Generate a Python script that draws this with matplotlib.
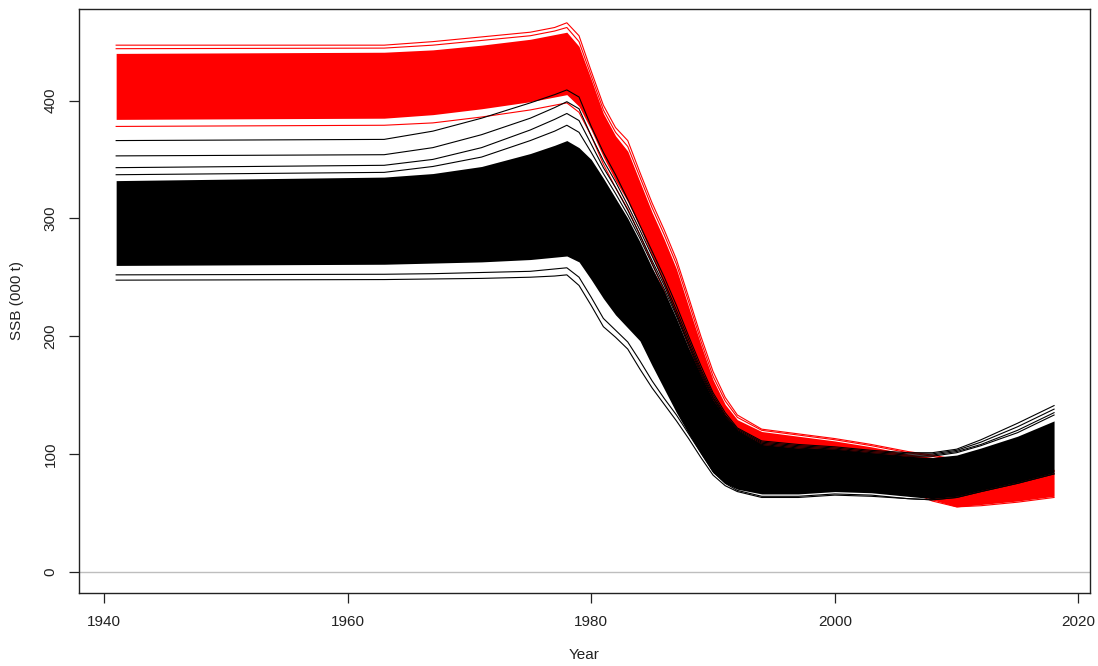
import matplotlib
matplotlib.use("Agg")
import matplotlib.pyplot as plt

plt.rcParams["font.family"] = ["Liberation Sans", "DejaVu Sans"]

# Knot years shared by every trajectory
years = [1941, 1963, 1967, 1971, 1975, 1977, 1978, 1979, 1980, 1981, 1982,
         1983, 1984, 1985, 1986, 1987, 1988, 1989, 1990, 1991, 1992, 1994,
         1997, 2000, 2003, 2006, 2008, 2010, 2012, 2015, 2018]

# Red ensemble: envelope of the dense core plus a few outlying runs
red_top = [447, 447, 450, 454, 458, 462, 466, 455, 425, 396, 377, 366, 339, 313,
           290, 265, 233, 200, 170, 148, 133, 121, 117, 113, 108, 102, 99, 95, 91, 88, 86]
red_upper = [444, 444.5, 447, 451, 455, 459, 462, 450, 421, 392, 373, 361, 335, 309,
             286, 261, 229, 196, 166, 145, 131, 120, 116, 112, 107, 101, 98, 94, 90, 87, 85]
red_core_hi = [440, 441, 443, 447, 452, 456, 458, 446, 418, 389, 370, 357, 331, 305,
               282, 257, 225, 193, 163, 142, 129, 119, 115, 111, 106, 100, 97, 93, 89, 86, 84]
red_core_lo = [384, 385, 388, 393, 399, 403, 405, 395, 375, 352, 332, 314, 292, 268,
               243, 216, 190, 162, 135, 114, 101, 90, 84, 81, 77, 71, 61, 55, 57, 60, 64]
red_low = [378, 379, 381, 386, 392, 396, 398, 390, 370, 346, 326, 308, 286, 262,
           238, 210, 184, 156, 130, 110, 98, 88, 82, 79, 75, 69, 60, 55, 56, 59, 63]

# Black ensemble
blk_core_hi = [332, 335, 338, 344, 355, 362, 366, 360, 350, 334, 317, 300, 280, 258,
               238, 215, 190, 167, 146, 131, 120, 108, 105, 104, 101, 98, 97, 99, 105, 115, 128]
blk_core_lo = [260, 261, 262, 263, 265, 267, 268, 263, 248, 232, 218, 207, 196, 175,
               155, 135, 117, 100, 84, 75, 70, 66, 66, 68, 67, 64, 62, 64, 69, 76, 84]
blk_up1 = [366, 367, 374, 385, 398, 405, 409, 403, 378, 356, 337, 316, 294, 272,
           250, 226, 200, 175, 152, 135, 122, 111, 108, 106, 103, 101, 101, 104, 112, 126, 141]
blk_up2 = [353, 354, 360, 371, 385, 394, 399, 393, 370, 349, 331, 311, 290, 268,
           246, 222, 197, 172, 150, 133, 121, 110, 107, 105, 102, 100, 100, 103, 110, 123, 138]
blk_up3 = [343, 345, 350, 360, 375, 384, 389, 383, 363, 343, 326, 307, 286, 264,
           243, 219, 194, 170, 148, 132, 120, 109, 106, 104, 101, 99, 99, 102, 108, 120, 135]
blk_up4 = [337, 339, 344, 352, 366, 374, 379, 373, 356, 338, 321, 303, 283, 261,
           240, 217, 192, 168, 147, 131, 119, 108, 105, 103, 100, 98, 98, 101, 107, 118, 133]
blk_lo1 = [247.5, 248, 248.5, 249, 250, 251, 252, 243, 226, 208, 199, 189, 172, 156,
           142, 128, 113, 97, 82, 73, 68, 63, 63, 65, 64, 62, 61, 63, 68, 75, 83]
blk_lo2 = [252, 252.5, 253, 254, 255, 257, 258, 250, 233, 215, 205, 195, 179, 162,
           147, 133, 117, 101, 85, 75, 69, 64, 64, 66, 65, 62, 61, 63, 68, 75, 83]

x_ticks = [1940, 1960, 1980, 2000, 2020]
y_ticks = [0, 100, 200, 300, 400]

fig = plt.figure(figsize=(10.98, 6.66), dpi=100)
ax = fig.add_axes([79 / 1098, 1 - 593 / 666, (1090 - 79) / 1098, (593 - 9) / 666])

ax.axhline(0, color="#bebebe", lw=1.0, zorder=1)

lw = 0.8
# red runs
ax.fill_between(years, red_core_lo, red_core_hi, color="red", lw=0, zorder=2)
for series in (red_top, red_upper, red_low):
    ax.plot(years, series, color="red", lw=lw, zorder=2)

# black runs drawn over the red ones
ax.fill_between(years, blk_core_lo, blk_core_hi, color="black", lw=0, zorder=3)
for series in (blk_up1, blk_up2, blk_up3, blk_up4, blk_lo1, blk_lo2):
    ax.plot(years, series, color="black", lw=lw, zorder=3)

ax.set_xlim(1937.95, 2020.95)
ax.set_ylim(-18.1, 477.7)
ax.set_xticks(x_ticks)
ax.set_yticks(y_ticks)
ax.set_yticklabels([str(v) for v in y_ticks], rotation=90, va="center")
ax.tick_params(direction="out", length=7.5, width=0.9, labelsize=11,
               colors="#222222", pad=8)
for side in ax.spines.values():
    side.set_color("#222222")
    side.set_linewidth(1.0)

ax.set_xlabel("Year", fontsize=11, color="#222222", labelpad=14)
ax.set_ylabel("SSB (000 t)", fontsize=11, color="#222222", labelpad=14)

fig.savefig("out.png", dpi=100)
